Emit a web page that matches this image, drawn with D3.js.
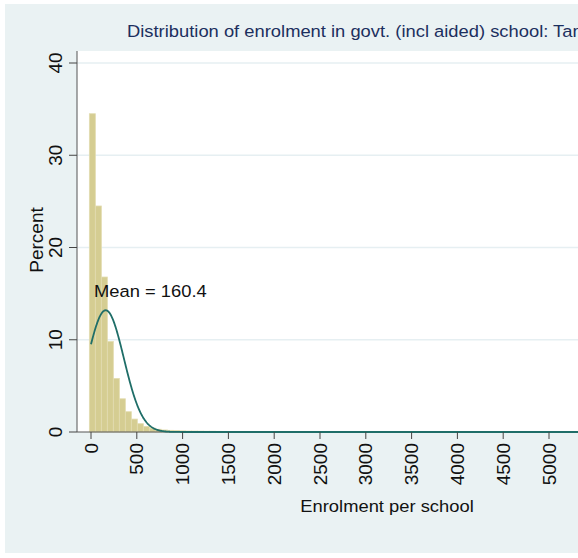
<!DOCTYPE html>
<html>
<head>
<meta charset="utf-8">
<script src="https://cdn.jsdelivr.net/npm/d3@7"></script>
<style>
  html, body { margin: 0; padding: 0; background: #ffffff; overflow: hidden; }
  svg { display: block; font-family: "Liberation Sans", Arial, Helvetica, sans-serif; }
</style>
</head>
<body>
<svg id="chart" width="578" height="558"></svg>
<script>
// Histogram of enrolment per school (percent of schools in each bin)
const binStart = -18;          // lower edge of the first bin
const binWidth = 65.5;         // enrolment units per bin
const binPercents = [
  34.5, 24.5, 16.8, 9.8, 5.8, 3.6, 2.2, 1.4, 0.9, 0.6,
  0.42, 0.3, 0.22, 0.18, 0.15, 0.12, 0.1, 0.1, 0.09, 0.08,
  0.08, 0.07, 0.06, 0.06, 0.06, 0.05, 0.05, 0.05, 0.05, 0.04,
  0.0, 0.05, 0.05, 0.05, 0.05, 0.06, 0.05, 0.04, 0.03, 0.03,
  0.03, 0.02, 0.02, 0.0, 0.06, 0.06, 0.05, 0.0, 0.0, 0.0,
  0.0, 0.0, 0.0, 0.0, 0.06, 0.06, 0.0, 0.0, 0.0, 0.06
];

// Normal density overlay
const meanEnrolment = 160.4;
const sdEnrolment = 198;
const curveStart = 0;          // smallest enrolment value

// Axis ticks and labels
const xTicks = [0, 500, 1000, 1500, 2000, 2500, 3000, 3500, 4000, 4500, 5000];
const yTicks = [0, 10, 20, 30, 40];
const titleText = "Distribution of enrolment in govt. (incl aided) school: Tamil Nadu";
const xTitle = "Enrolment per school";
const yTitle = "Percent";
const meanLabel = "Mean = " + meanEnrolment.toFixed(1);

const svg = d3.select("#chart");
const W = 578;

const plot = { left: 77, top: 51, bottom: 432, right: 700 };

const x = d3.scaleLinear().domain([0, 5000]).range([91, 549]);
const y = d3.scaleLinear().domain([0, 40]).range([432, 63]);

// outer graph region
svg.append("rect").attr("x", 5).attr("y", 4).attr("width", W).attr("height", 549)
  .attr("fill", "#eaf2f3");

// plot region
svg.append("rect").attr("x", plot.left).attr("y", plot.top)
  .attr("width", plot.right - plot.left).attr("height", plot.bottom - plot.top)
  .attr("fill", "#ffffff");

// horizontal gridlines
svg.append("g").selectAll("line").data(yTicks.filter(d => d > 0)).join("line")
  .attr("x1", plot.left).attr("x2", plot.right)
  .attr("y1", d => y(d)).attr("y2", d => y(d))
  .attr("stroke", "#e6eff2").attr("stroke-width", 1.4);

// histogram bars
const bins = binPercents.map((p, i) => ({
  x0: binStart + i * binWidth,
  x1: binStart + (i + 1) * binWidth,
  p
})).filter(b => b.p > 0);

svg.append("g").selectAll("rect").data(bins).join("rect")
  .attr("x", d => x(d.x0))
  .attr("width", d => x(d.x1) - x(d.x0))
  .attr("y", d => y(d.p))
  .attr("height", d => y(0) - y(d.p))
  .attr("fill", "#d5cd92")
  .attr("stroke", "#e2dcb0")
  .attr("stroke-width", 0.8);

// axis lines
svg.append("line").attr("x1", plot.left).attr("x2", plot.right)
  .attr("y1", plot.bottom).attr("y2", plot.bottom)
  .attr("stroke", "#555").attr("stroke-width", 1);
svg.append("line").attr("x1", plot.left).attr("x2", plot.left)
  .attr("y1", plot.top).attr("y2", plot.bottom)
  .attr("stroke", "#555").attr("stroke-width", 1);

// normal density curve scaled to percent per bin
const densityScale = binWidth * 100;
const curvePts = d3.range(curveStart, 6000, 5).map(v => [
  v,
  densityScale * Math.exp(-0.5 * Math.pow((v - meanEnrolment) / sdEnrolment, 2)) /
    (sdEnrolment * Math.sqrt(2 * Math.PI))
]);
svg.append("path").datum(curvePts)
  .attr("d", d3.line().x(d => x(d[0])).y(d => y(d[1])))
  .attr("fill", "none").attr("stroke", "#1f6e68").attr("stroke-width", 1.8);

// y axis ticks and labels
const gy = svg.append("g");
gy.selectAll("line").data(yTicks).join("line")
  .attr("x1", plot.left - 8).attr("x2", plot.left)
  .attr("y1", d => y(d)).attr("y2", d => y(d))
  .attr("stroke", "#444");
gy.selectAll("text").data(yTicks).join("text")
  .attr("transform", d => `translate(62,${y(d)}) rotate(-90)`)
  .attr("text-anchor", "middle")
  .attr("font-size", 19).attr("fill", "#111")
  .text(d => d);

// x axis ticks and labels
const gx = svg.append("g");
gx.selectAll("line").data(xTicks).join("line")
  .attr("x1", d => x(d)).attr("x2", d => x(d))
  .attr("y1", plot.bottom).attr("y2", plot.bottom + 7)
  .attr("stroke", "#444");
gx.selectAll("text").data(xTicks).join("text")
  .attr("transform", d => `translate(${x(d) + 6.5},443) rotate(-90)`)
  .attr("text-anchor", "end")
  .attr("font-size", 19).attr("fill", "#111")
  .text(d => d);

// axis titles
svg.append("text")
  .attr("transform", "translate(43,240) rotate(-90)")
  .attr("text-anchor", "middle")
  .attr("font-size", 19).attr("fill", "#111")
  .text(yTitle);

svg.append("text")
  .attr("transform", "translate(387,512) scale(1.08,1)")
  .attr("text-anchor", "middle")
  .attr("font-size", 17).attr("fill", "#111")
  .text(xTitle);

// chart title (runs past the right edge of the graph window)
svg.append("text")
  .attr("transform", "translate(127,37) scale(1.08,1)")
  .attr("font-size", 17).attr("fill", "#1c2f5e")
  .text(titleText);

// mean annotation
svg.append("text")
  .attr("transform", "translate(94,297) scale(1.08,1)")
  .attr("font-size", 17).attr("fill", "#111")
  .text(meanLabel);
</script>
</body>
</html>
